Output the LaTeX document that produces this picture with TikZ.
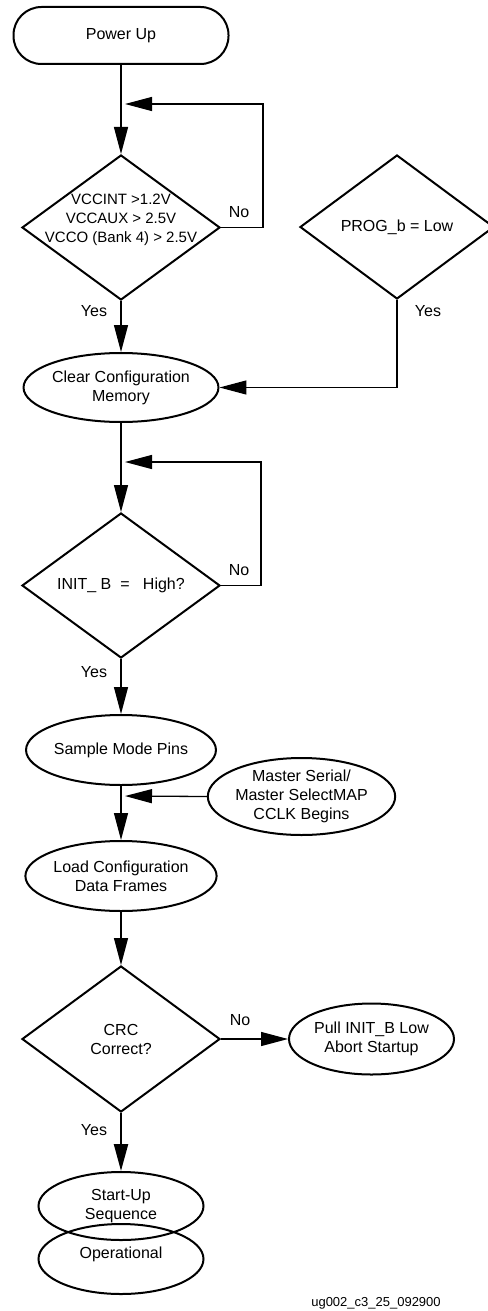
\documentclass[tikz,border=0pt]{standalone}
\usepackage{fontspec}
\setmainfont{Liberation Sans}
\usetikzlibrary{shapes.geometric,arrows.meta}

\begin{document}
\begin{tikzpicture}[x=1pt,y=-1pt,
  every node/.style={font=\fontsize{16}{19}\selectfont},
  link/.style={line width=1.3pt},
  flow/.style={line width=1.3pt,-{Triangle[length=27pt,width=14pt]}},
  start/.style={draw,line width=2pt,rectangle,rounded corners=28pt,
    minimum width=215pt,minimum height=57pt,inner sep=0pt},
  proc/.style={draw,ellipse,line width=2pt,minimum width=165pt,
    minimum height=70pt,inner sep=0pt,align=center},
  decision/.style={draw,diamond,line width=2pt,minimum width=198pt,
    minimum height=145pt,inner sep=0pt,align=center},
  tag/.style={inner sep=0pt}]

\useasboundingbox (0,0) rectangle (487,1311);

% main column, all centred on x = 121
\node[start] (pu) at (121,35.5) {Power Up};
\node[decision,label={[name=d1t,align=center,yshift=8pt,
    font=\fontsize{15}{19}\selectfont]center:VCCINT >1.2V\\VCCAUX > 2.5V\\VCCO (Bank 4) > 2.5V}]
  (d1) at (121,227.5) {};
\node[decision,minimum width=194pt,minimum height=144pt] (prog) at (397,227) {PROG\_b = Low};
\node[proc,minimum width=164pt,minimum height=69pt] (clr) at (121,387.5) {Clear Configuration\\Memory};
\node[decision] (d3) at (121,585.5) {INIT\_\ B\ \ =\ \ \ High?};
\node[proc] (smp) at (121,750) {Sample Mode Pins};
\node[proc,minimum width=181pt,minimum height=77pt] (mst) at (301.5,796.5)
  {Master Serial/\\Master SelectMAP\\CCLK Begins};
\node[proc] (load) at (121,876) {Load Configuration\\Data Frames};
\node[decision,minimum height=146pt] (d4) at (121,1039) {CRC\\Correct?};
\node[proc,minimum height=71pt] (pull) at (371.5,1039) {Pull INIT\_B Low\\Abort Startup};
\node[proc,minimum height=68pt] (st) at (121,1206) {Start-Up\\Sequence};
\node[proc,label={[name=opt,yshift=5pt]center:Operational}] (op) at (121,1259) {};

% merge points on the main line
\coordinate (m1) at (121,104);
\coordinate (m2) at (121,462);
\coordinate (m3) at (121,796);

% connectors
\draw[flow] (pu.south) -- (d1.north);
\draw[flow,shorten >=4pt] (d1.east) -- ++(42,0) |- (m1);
\draw[flow] (d1.south) -- (clr.north);
\draw[flow] (prog.south) |- (clr.east);
\draw[flow] (clr.south) -- (d3.north);
\draw[flow,shorten >=4pt] (d3.east) -- ++(40,0) |- (m2);
\draw[flow] (d3.south) -- (smp.north);
\draw[flow] (smp.south) -- (load.north);
\draw[flow,shorten >=4pt] (mst.west) -- (m3);
\draw[flow] (load.south) -- (d4.north);
\draw[flow] (d4.east) -- (pull.west);
\draw[flow,line width=2.2pt] (d4.south) -- (st.north);

% branch labels
\node[tag] (no1) at (239,212) {No};
\node[tag] (yes1) at (94,311) {Yes};
\node[tag] (yes2) at (428,311) {Yes};
\node[tag] (no3) at (239,570) {No};
\node[tag] (yes3) at (94,672) {Yes};
\node[tag] (no4) at (240,1020) {No};
\node[tag] (yes4) at (94,1130) {Yes};

% figure id
\node[tag,font=\fontsize{13}{15}\selectfont] (fid) at (376,1303) {ug002\_c3\_25\_092900};
\end{tikzpicture}
\end{document}
